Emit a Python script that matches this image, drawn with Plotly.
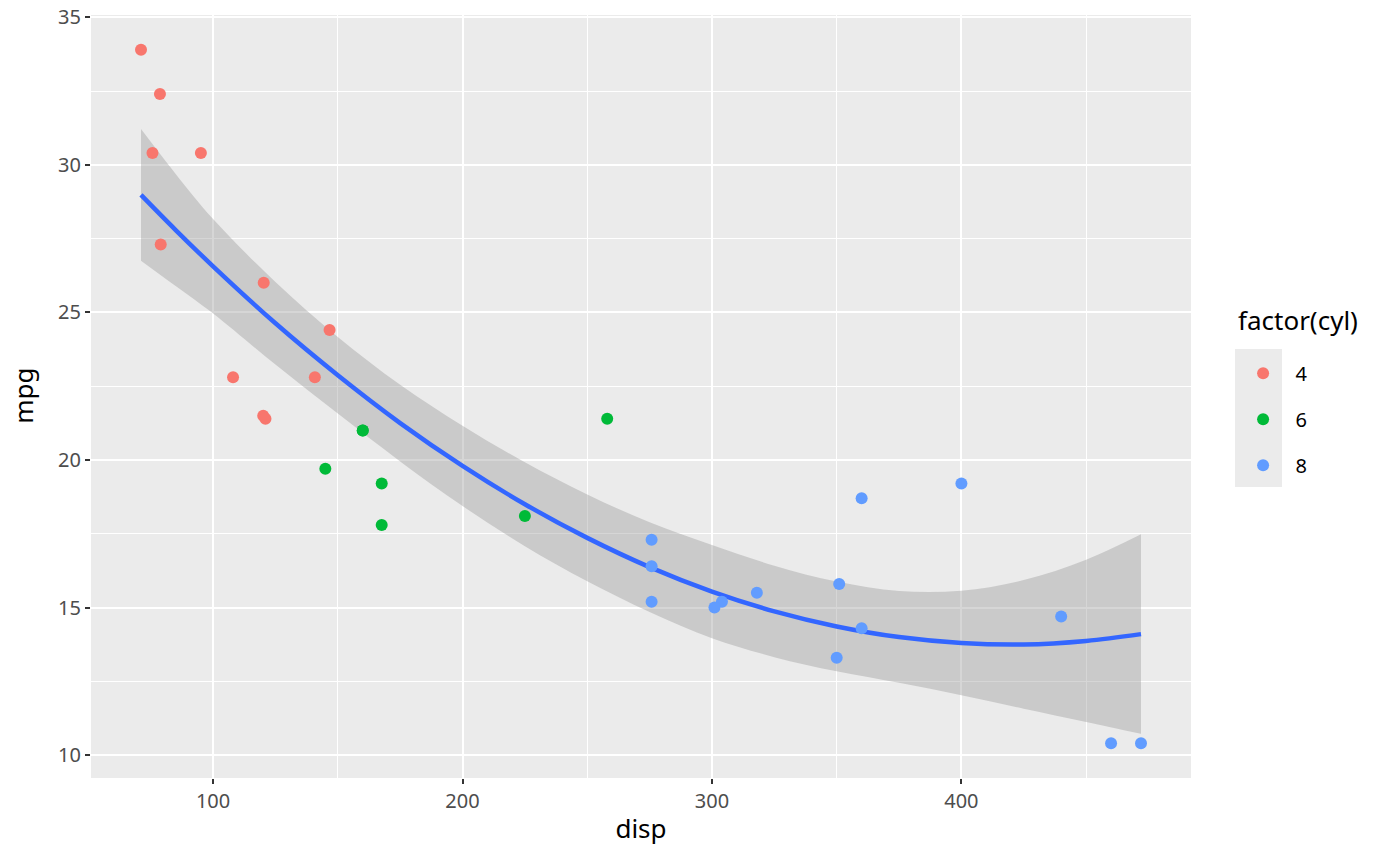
import plotly.graph_objects as go

# mtcars: displacement, mpg, cylinders
disp = [160, 160, 108, 258, 360, 225, 360, 146.7, 140.8, 167.6, 167.6, 275.8,
        275.8, 275.8, 472, 460, 440, 78.7, 75.7, 71.1, 120.1, 318, 304, 350,
        400, 79, 120.3, 95.1, 351, 145, 301, 121]
mpg = [21.0, 21.0, 22.8, 21.4, 18.7, 18.1, 14.3, 24.4, 22.8, 19.2, 17.8, 16.4,
       17.3, 15.2, 10.4, 10.4, 14.7, 32.4, 30.4, 33.9, 21.5, 15.5, 15.2, 13.3,
       19.2, 27.3, 26.0, 30.4, 15.8, 19.7, 15.0, 21.4]
cyl = [6, 6, 4, 6, 8, 6, 8, 4, 4, 6, 6, 8, 8, 8, 8, 8, 8, 4, 4, 4, 4, 8, 8, 8,
       8, 4, 4, 4, 8, 6, 8, 4]

# smoother
fit_x = [71.1, 85, 100, 125, 150, 175, 200, 225, 250, 275, 300, 325, 350, 375,
         400, 425, 450, 472]
fit_y = [28.98, 27.79, 26.56, 24.63, 22.87, 21.25, 19.80, 18.50, 17.36, 16.37,
         15.54, 14.87, 14.36, 14.00, 13.80, 13.75, 13.87, 14.10]
fit_hi = [31.21, 29.69, 28.16, 26.03, 24.17, 22.55, 21.16, 19.92, 18.83, 17.89,
          17.12, 16.42, 15.88, 15.56, 15.57, 15.93, 16.62, 17.48]
fit_lo = [26.75, 25.89, 24.96, 23.23, 21.57, 19.95, 18.44, 17.08, 15.89, 14.85,
          13.96, 13.32, 12.84, 12.45, 12.03, 11.57, 11.12, 10.72]

levels = [4, 6, 8]
colors = {4: '#F8766D', 6: '#00BA38', 8: '#619CFF'}

FONT = 'Noto Sans'

fig = go.Figure()

# confidence band + fitted curve
fig.add_trace(go.Scatter(x=fit_x, y=fit_hi, mode='lines', line=dict(width=0, shape='spline'),
                         showlegend=False, hoverinfo='skip'))
fig.add_trace(go.Scatter(x=fit_x, y=fit_lo, mode='lines', line=dict(width=0, shape='spline'),
                         fill='tonexty', fillcolor='rgba(153,153,153,0.4)',
                         showlegend=False, hoverinfo='skip'))
fig.add_trace(go.Scatter(x=fit_x, y=fit_y, mode='lines',
                         line=dict(color='#3366FF', width=4.5, shape='spline'),
                         showlegend=False, hoverinfo='skip'))

for lv in levels:
    xs = [d for d, c in zip(disp, cyl) if c == lv]
    ys = [m for m, c in zip(mpg, cyl) if c == lv]
    fig.add_trace(go.Scatter(x=xs, y=ys, mode='markers', name=str(lv),
                             legendgroup=str(lv),
                             marker=dict(color=colors[lv], size=12, line=dict(width=0))))

axis_common = dict(showgrid=True, gridcolor='white', gridwidth=2, zeroline=False,
                   ticks='outside', ticklen=5, tickwidth=1.5, tickcolor='#333333',
                   tickfont=dict(family=FONT, size=20, color='#4D4D4D'),
                   ticklabeloverflow='allow',
                   showline=False, automargin=False)

fig.update_xaxes(range=[51.055, 492.045], tick0=0, dtick=100,
                 minor=dict(dtick=50, showgrid=True, gridcolor='white', gridwidth=1, ticks=''),
                 title=dict(text='disp', font=dict(family=FONT, size=26, color='black'), standoff=6),
                 **axis_common)
fig.update_yaxes(range=[9.225, 35.075], tick0=0, dtick=5,
                 minor=dict(dtick=2.5, showgrid=True, gridcolor='white', gridwidth=1, ticks=''),
                 **axis_common)

# y title placed by hand (ggplot puts it close to the window edge)
fig.add_annotation(text='mpg', xref='paper', yref='paper', x=-0.062, y=0.5007,
                   xanchor='center', yanchor='middle', textangle=-90, showarrow=False,
                   font=dict(family=FONT, size=26, color='black'))

# grey background behind legend keys
fig.add_shape(type='rect', xref='paper', yref='paper',
              x0=1.04, x1=1.0827, y0=0.3814, y1=0.5623,
              fillcolor='#EBEBEB', line=dict(width=0), layer='below')

# legend title as its own text, so the gap above the keys can be set
fig.add_annotation(text='factor(cyl)', xref='paper', yref='paper',
                   x=1.0409, y=0.6003, xanchor='left', yanchor='middle', showarrow=False,
                   font=dict(family=FONT, size=26, color='black'))

fig.update_layout(
    width=1400, height=866,
    margin=dict(l=91, r=209, t=15, b=88),
    paper_bgcolor='white', plot_bgcolor='#EBEBEB',
    font=dict(family=FONT, color='black'),
    legend=dict(x=1.036, y=0.556, xanchor='left', yanchor='top',
                bgcolor='rgba(0,0,0,0)', tracegroupgap=17, itemwidth=55,
                font=dict(family=FONT, size=20, color='black')),
)

# drop the browser's default body margin so the figure fills the window
fig.write_html("out.html", config={'displayModeBar': False},
               post_script="document.body.style.margin = '0';")
